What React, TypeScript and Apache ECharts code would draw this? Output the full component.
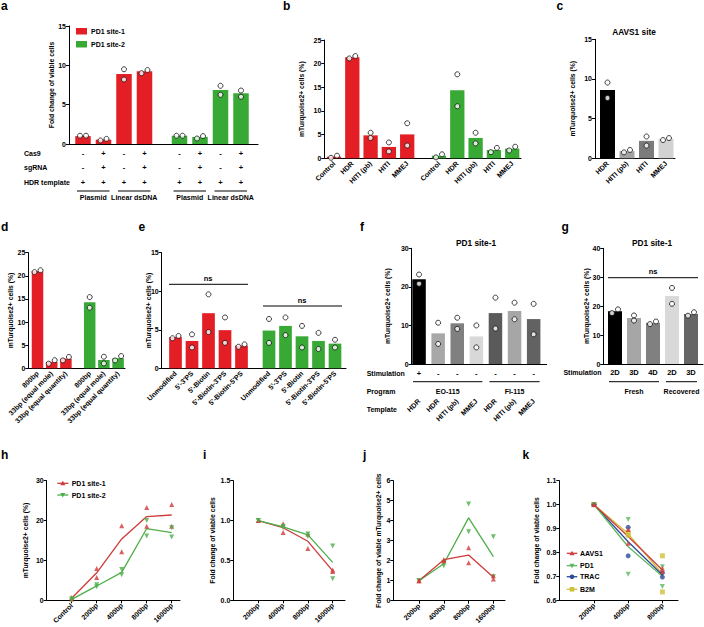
import React, { useEffect, useRef } from 'react';
import * as echarts from 'echarts';

const FONT = '"Liberation Sans", Arial, Helvetica, sans-serif';
const INK = '#000000';
const RED = '#e41e25';
const GREEN = '#39a935';
const LINE_RED = '#cf3a3a';
const LINE_GREEN = '#4dae4a';

// ---------- panel a ----------
const aCas9 = ['-', '+', '-', '+'];
const aSgRNA = ['-', '+', '-', '+'];
const aHDRTemplate = ['+', '+', '+', '+'];
const aTemplate = ['Plasmid', 'Plasmid', 'Linear dsDNA', 'Linear dsDNA'];
const aSite1Mean = [1.0, 0.55, 8.9, 9.25];
const aSite1Reps = [[1.05, 1.05], [0.45, 0.65], [9.5, 8.2], [9.0, 9.4]];
const aSite2Mean = [1.05, 0.9, 6.85, 6.45];
const aSite2Reps = [[1.05, 1.05], [0.7, 1.0], [7.4, 6.25], [6.8, 6.0]];

// ---------- panel b ----------
const bCats = ['Control', 'HDR', 'HITI (pb)', 'HITI', 'MMEJ'];
const bSite1Mean = [0.35, 21.35, 4.85, 2.4, 5.05];
const bSite1Reps = [[0.1, 0.55], [21.1, 21.6], [5.4, 4.3], [3.35, 1.45], [7.4, 2.7]];
const bSite2Mean = [0.55, 14.4, 4.3, 1.75, 2.05];
const bSite2Reps = [[0.2, 0.85], [17.75, 11.0], [5.4, 3.15], [1.3, 2.2], [1.65, 2.45]];

// ---------- panel c ----------
const cCats = ['HDR', 'HITI (pb)', 'HITI', 'MMEJ'];
const cMean = [8.6, 0.9, 2.2, 2.45];
const cReps = [[9.55, 7.6], [0.75, 1.05], [2.75, 1.6], [2.3, 2.55]];
const cColors = ['#000000', '#a3a3a3', '#7b7b7b', '#d2d2d2'];

// ---------- panel d ----------
const dCats = ['800bp', '33bp (equal mole)', '33bp (equal quantity)'];
const dSite1Mean = [21.0, 1.4, 2.1];
const dSite1Reps = [[20.8, 21.2], [1.0, 1.75], [1.7, 2.45]];
const dSite2Mean = [14.3, 1.8, 2.2];
const dSite2Reps = [[15.4, 13.1], [2.5, 1.05], [1.7, 2.65]];

// ---------- panel e ----------
const eCats = ['Unmodified', "5'-3'PS", "5'-Biotin", "5'-Biotin-3'PS", "5'-Biotin-5'PS"];
const eSite1Mean = [4.05, 3.55, 7.15, 4.95, 2.95];
const eSite1Reps = [[3.9, 4.2], [4.4, 2.7], [9.6, 4.7], [6.6, 3.3], [2.8, 3.1]];
const eSite2Mean = [4.9, 5.5, 4.15, 3.55, 3.2];
const eSite2Reps = [[6.4, 3.3], [6.6, 4.3], [5.5, 2.7], [4.6, 2.5], [3.7, 2.7]];

// ---------- panel f ----------
const fStim = ['+', '-', '-', '-', '-', '-', '-'];
const fProgram = ['EO-115', 'EO-115', 'EO-115', 'EO-115', 'FI-115', 'FI-115', 'FI-115'];
const fTemplate = ['HDR', 'HDR', 'HITI (pb)', 'MMEJ', 'HDR', 'HITI (pb)', 'MMEJ'];
const fMean = [22.0, 7.95, 10.55, 7.15, 13.2, 13.75, 11.65];
const fReps = [[23.2, 20.8], [10.7, 5.2], [12.0, 9.1], [10.0, 4.3], [17.2, 9.2], [15.9, 11.6], [15.6, 7.7]];
const fColors = ['#000000', '#a8a8a8', '#808080', '#d8d8d8', '#5a5a5a', '#a6a6a6', '#626262'];

// ---------- panel g ----------
const gStim = ['2D', '3D', '4D', '2D', '3D'];
const gState = ['Fresh', 'Fresh', 'Fresh', 'Recovered', 'Recovered'];
const gMean = [18.25, 15.9, 14.25, 23.55, 17.3];
const gReps = [[17.6, 18.9], [16.8, 15.0], [13.8, 14.7], [26.3, 20.8], [16.7, 17.9]];
const gColors = ['#000000', '#a6a6a6', '#808080', '#d9d9d9', '#666666'];

// ---------- panel h ----------
const hCats = ['Control', '200bp', '400bp', '800bp', '1600bp'];
const hSite1Mean = [0.5, 6.9, 15.4, 21.0, 21.4];
const hSite1Reps = [[0.7, 0.3], [8.0, 5.7], [18.7, 12.2], [23.3, 18.6], [24.0, 18.6]];
const hSite2Mean = [0.25, 3.6, 7.0, 18.0, 17.0];
const hSite2Reps = [[0.4, 0.1], [3.9, 3.4], [7.7, 6.4], [20.0, 16.1], [18.2, 15.9]];
const hLegend = ['PD1 site-1', 'PD1 site-2'];

// ---------- panel i ----------
const iCats = ['200bp', '400bp', '800bp', '1600bp'];
const iSite1Mean = [1.0, 0.91, 0.74, 0.37];
const iSite1Reps = [[1.0, 1.0], [0.96, 0.85], [0.83, 0.65], [0.38, 0.36]];
const iSite2Mean = [1.0, 0.92, 0.82, 0.475];
const iSite2Reps = [[1.0, 1.0], [0.93, 0.91], [0.83, 0.8], [0.68, 0.27]];

// ---------- panel j ----------
const jCats = ['200bp', '400bp', '800bp', '1600bp'];
const jSite1Mean = [1.0, 2.05, 2.28, 1.17];
const jSite1Reps = [[1.0, 1.0], [2.05, 2.0], [2.65, 1.9], [1.25, 1.08]];
const jSite2Mean = [1.0, 1.85, 4.14, 2.2];
const jSite2Reps = [[1.0, 1.0], [1.75, 1.9], [4.83, 3.45], [3.2, 1.2]];

// ---------- panel k ----------
const kCats = ['200bp', '400bp', '800bp'];
const kNames = ['AAVS1', 'PD1', 'TRAC', 'B2M'];
const kAAVS1Mean = [1.0, 0.867, 0.727];
const kAAVS1Reps = [[1.0, 1.0], [0.896, 0.838], [0.734, 0.72]];
const kPD1Mean = [1.0, 0.824, 0.7];
const kPD1Reps = [[1.0, 1.0], [0.938, 0.709], [0.74, 0.658]];
const kTRACMean = [1.0, 0.845, 0.706];
const kTRACReps = [[1.0, 1.0], [0.905, 0.786], [0.716, 0.697]];
const kB2MMean = [1.0, 0.878, 0.71];
const kB2MReps = [[1.0, 1.0], [0.884, 0.872], [0.786, 0.635]];
const kColors = ['#d23c3c', '#5cb85c', '#2c4a9a', '#cfc23a'];
const kSymbols = ['triangle', 'triangle', 'circle', 'rect'];
const kRotate = [0, 180, 0, 0];

type Frame = {
  x: number; top: number; bottom: number; right: number;
  min: number; max: number; interval: number; name: string; nameGap: number; decimals?: number;
};

function buildOption() {
  const grid: any[] = [];
  const xAxis: any[] = [];
  const yAxis: any[] = [];
  const series: any[] = [];
  const graphic: any[] = [];
  const axisLine = { color: INK, width: 1 };
  const baseLabel = { color: INK, fontFamily: FONT, fontWeight: 'bold' };

  const addGrid = (left: number, top: number, width: number, height: number) => {
    grid.push({ left, top, width, height, containLabel: false, outerBoundsMode: 'none' });
    return grid.length - 1;
  };

  const frame = (f: Frame) => {
    const gi = addGrid(f.x, f.top, f.right - f.x, f.bottom - f.top);
    xAxis.push({
      gridIndex: gi, type: 'value', min: 0, max: 1,
      axisLine: { show: true, onZero: false, lineStyle: axisLine },
      axisTick: { show: false }, axisLabel: { show: false }, splitLine: { show: false },
    });
    yAxis.push({
      gridIndex: gi, type: 'value', min: f.min, max: f.max, interval: f.interval,
      axisLine: { show: true, lineStyle: axisLine },
      axisTick: { show: true, length: 3, lineStyle: axisLine },
      axisLabel: {
        ...baseLabel, fontSize: 7, margin: 3,
        formatter: (v: number) => (f.decimals ? v.toFixed(f.decimals) : String(Math.round(v))),
      },
      splitLine: { show: false },
      name: f.name, nameLocation: 'middle', nameGap: f.nameGap, nameMoveOverlap: false,
      nameTextStyle: { ...baseLabel, fontSize: 6.8 },
    });
  };

  const dataGrid = (
    f: Frame, firstCenter: number, slot: number, labels: string[], label: any,
    opts: { ticks?: boolean; extra?: { labels: string[]; label: any; offset: number }[] } = {},
  ) => {
    const left = firstCenter - slot / 2;
    const gi = addGrid(left, f.top, slot * labels.length, f.bottom - f.top);
    const keys = labels.map((_, i) => 'k' + i);
    const mk = (labs: string[], lab: any, offset: number, ticks: boolean) => ({
      gridIndex: gi, type: 'category', data: keys, offset, position: 'bottom',
      axisLine: { show: false }, splitLine: { show: false },
      axisTick: { show: ticks, alignWithLabel: true, length: 3, lineStyle: axisLine },
      axisLabel: {
        ...baseLabel, fontSize: 7, interval: 0, margin: 4, rotate: 45, ...lab,
        formatter: (_v: string, idx: number) => labs[idx],
      },
    });
    const xi = xAxis.length;
    xAxis.push(mk(labels, label, 0, !!opts.ticks));
    (opts.extra || []).forEach((e) => xAxis.push(mk(e.labels, e.label, e.offset, false)));
    const yi = yAxis.length;
    yAxis.push({ gridIndex: gi, type: 'value', show: false, min: f.min, max: f.max });
    return {
      xi, yi,
      px: (f.bottom - f.top) / (f.max - f.min),
      center: (i: number) => left + slot * (i + 0.5),
    };
  };
  type G = ReturnType<typeof dataGrid>;

  const bars = (g: G, means: number[], color: string | string[], barWidth: number) => {
    series.push({
      type: 'bar', xAxisIndex: g.xi, yAxisIndex: g.yi, barWidth, silent: true,
      data: means.map((v, i) => ({ value: v, itemStyle: { color: Array.isArray(color) ? color[i] : color } })),
    });
  };

  const dots = (g: G, reps: number[][]) => {
    series.push({
      type: 'scatter', xAxisIndex: g.xi, yAxisIndex: g.yi, symbol: 'circle', symbolSize: 5, silent: true, z: 3,
      itemStyle: { color: '#ffffff', borderColor: '#111111', borderWidth: 1 },
      data: reps.flatMap((r, i) => {
        const close = Math.abs(r[0] - r[1]) * g.px < 5;
        return r.map((v, j) => ({ value: [i, v], symbolOffset: close ? [j === 0 ? -3 : 3, 0] : [0, 0] }));
      }),
    });
  };

  const lineSeries = (g: G, mean: number[], reps: number[][], color: string, symbol: string, rotate: number) => {
    series.push({
      type: 'line', xAxisIndex: g.xi, yAxisIndex: g.yi, data: mean, symbol: 'none', silent: true, z: 2,
      lineStyle: { color, width: 1.3 }, itemStyle: { color },
    });
    series.push({
      type: 'scatter', xAxisIndex: g.xi, yAxisIndex: g.yi, symbol, symbolRotate: rotate, symbolSize: 5,
      silent: true, z: 3, itemStyle: { color },
      data: reps.flatMap((r, i) => r.map((v) => [i, v])),
    });
  };

  const txt = (x: number, y: number, s: string, size = 7, align = 'left', weight = 'bold') =>
    graphic.push({
      type: 'text', x, y, silent: true,
      style: { text: s, fill: INK, fontSize: size, fontWeight: weight, fontFamily: FONT, align, verticalAlign: 'middle' },
    });
  const hl = (x1: number, x2: number, y: number, stroke = INK, w = 1) =>
    graphic.push({ type: 'line', silent: true, shape: { x1, y1: y, x2, y2: y }, style: { stroke, lineWidth: w } });
  const rect = (x: number, y: number, w: number, h: number, fill: string) =>
    graphic.push({ type: 'rect', silent: true, shape: { x, y, width: w, height: h }, style: { fill } });
  const marker = (cx: number, cy: number, symbol: string, rot: number, fill: string) => {
    if (symbol === 'triangle') {
      const pts = rot === 180
        ? [[cx - 2.5, cy - 2], [cx + 2.5, cy - 2], [cx, cy + 2.5]]
        : [[cx, cy - 2.5], [cx + 2.5, cy + 2], [cx - 2.5, cy + 2]];
      graphic.push({ type: 'polygon', silent: true, shape: { points: pts }, style: { fill } });
    } else if (symbol === 'circle') {
      graphic.push({ type: 'circle', silent: true, shape: { cx, cy, r: 2.3 }, style: { fill } });
    } else {
      rect(cx - 2.3, cy - 2.3, 4.6, 4.6, fill);
    }
  };
  const underGroups = (g: G, groups: string[], lineY: number, textY: number) => {
    let s = 0;
    for (let i = 1; i <= groups.length; i++) {
      if (i === groups.length || groups[i] !== groups[s]) {
        const x1 = g.center(s) - 6;
        const x2 = g.center(i - 1) + 6;
        hl(x1, x2, lineY);
        txt((x1 + x2) / 2, textY, groups[s], 7, 'center');
        s = i;
      }
    }
  };

  // panel letters
  [['a', 1, 5.6], ['b', 283, 5.6], ['c', 556.5, 5.6], ['d', 1, 227], ['e', 138.5, 227], ['f', 360, 227],
    ['g', 561.5, 227], ['h', 1, 455], ['i', 203, 455], ['j', 363, 455], ['k', 522.5, 455]].forEach(
    ([l, x, y]) => txt(x as number, y as number, l as string, 12),
  );

  // ---------- a ----------
  const fa: Frame = { x: 69, top: 26, bottom: 144, right: 258, min: 0, max: 15, interval: 5, name: 'Fold change of viable cells', nameGap: 14.5 };
  frame(fa);
  const aRows = aCas9.map((c, i) => `${c}\n${aSgRNA[i]}\n${aHDRTemplate[i]}`);
  const aLab = { rotate: 0, fontSize: 7.5, lineHeight: 14.5, margin: 1.75 };
  const aG1 = dataGrid(fa, 83, 20.5, aRows, aLab);
  const aG2 = dataGrid(fa, 179.5, 20.5, aRows, aLab);
  bars(aG1, aSite1Mean, RED, 15.5); dots(aG1, aSite1Reps);
  bars(aG2, aSite2Mean, GREEN, 15.5); dots(aG2, aSite2Reps);
  txt(24, 153, 'Cas9'); txt(24, 167.5, 'sgRNA'); txt(24, 182, 'HDR template');
  underGroups(aG1, aTemplate, 191, 197.5);
  underGroups(aG2, aTemplate, 191, 197.5);
  rect(76, 28, 11, 6.5, RED); txt(91, 31.3, 'PD1 site-1');
  rect(76, 41, 11, 6.5, GREEN); txt(91, 44.3, 'PD1 site-2');

  // ---------- b ----------
  const fb: Frame = { x: 324.3, top: 40, bottom: 158.3, right: 521, min: 0, max: 25, interval: 5, name: 'mTurquoise2+ cells (%)', nameGap: 18.9 };
  frame(fb);
  const bG1 = dataGrid(fb, 334, 18.3, bCats, {});
  const bG2 = dataGrid(fb, 439, 18.3, bCats, {});
  bars(bG1, bSite1Mean, RED, 14.3); dots(bG1, bSite1Reps);
  bars(bG2, bSite2Mean, GREEN, 14.3); dots(bG2, bSite2Reps);

  // ---------- c ----------
  const fc: Frame = { x: 595, top: 39.3, bottom: 158.3, right: 675, min: 0, max: 15, interval: 5, name: 'mTurquoise2+ cells (%)', nameGap: 19.5 };
  frame(fc);
  const cG = dataGrid(fc, 607.5, 19.5, cCats, {});
  bars(cG, cMean, cColors, 15); dots(cG, cReps);
  txt(634, 31.7, 'AAVS1 site', 8.3, 'center');

  // ---------- d ----------
  const fd: Frame = { x: 28.3, top: 252.7, bottom: 368.3, right: 125, min: 0, max: 25, interval: 5, name: 'mTurquoise2+ cells (%)', nameGap: 14.5 };
  frame(fd);
  const dG1 = dataGrid(fd, 37.5, 14.2, dCats, {});
  const dG2 = dataGrid(fd, 89.7, 14.2, dCats, {});
  bars(dG1, dSite1Mean, RED, 11.5); dots(dG1, dSite1Reps);
  bars(dG2, dSite2Mean, GREEN, 11.5); dots(dG2, dSite2Reps);

  // ---------- e ----------
  const fe: Frame = { x: 161.7, top: 252.7, bottom: 368.3, right: 346, min: 0, max: 15, interval: 5, name: 'mTurquoise2+ cells (%)', nameGap: 9.7 };
  frame(fe);
  const eG1 = dataGrid(fe, 175.5, 16.5, eCats, {});
  const eG2 = dataGrid(fe, 269, 16.5, eCats, {});
  bars(eG1, eSite1Mean, RED, 12.7); dots(eG1, eSite1Reps);
  bars(eG2, eSite2Mean, GREEN, 12.7); dots(eG2, eSite2Reps);
  hl(169, 248, 284.3); txt(208, 278, 'ns', 7.5, 'center');
  hl(263, 342, 306); txt(302, 300, 'ns', 7.5, 'center');

  // ---------- f ----------
  const ff: Frame = { x: 411.7, top: 248.3, bottom: 364, right: 546.7, min: 0, max: 30, interval: 10, name: 'mTurquoise2+ cells (%)', nameGap: 21 };
  frame(ff);
  const fG = dataGrid(ff, 419.05, 19.1, fStim, { rotate: 0, fontSize: 7.5, lineHeight: 10, margin: 4.3 }, {
    extra: [{ labels: fTemplate, label: { rotate: 45, margin: 2 }, offset: 34 }],
  });
  bars(fG, fMean, fColors, 13.5); dots(fG, fReps);
  txt(476, 243, 'PD1 site-1', 8.3, 'center');
  txt(366.7, 373.3, 'Stimulation'); txt(366.7, 391.5, 'Program'); txt(366.7, 409.5, 'Template');
  underGroups(fG, fProgram, 381.7, 391.5);

  // ---------- g ----------
  const fgr: Frame = { x: 603.3, top: 248.3, bottom: 364, right: 703, min: 0, max: 40, interval: 10, name: 'mTurquoise2+ cells (%)', nameGap: 12.9 };
  frame(fgr);
  const gG = dataGrid(fgr, 615, 19, gStim, { rotate: 0, fontSize: 7.5, lineHeight: 10, margin: 3.7 });
  bars(gG, gMean, gColors, 14); dots(gG, gReps);
  txt(652, 243, 'PD1 site-1', 8.3, 'center');
  txt(601.5, 372.7, 'Stimulation', 7, 'right');
  underGroups(gG, gState, 381.7, 391);
  hl(608, 698, 277.7); txt(653, 271.7, 'ns', 7.5, 'center');

  // ---------- h ----------
  const fh: Frame = { x: 46.7, top: 480.7, bottom: 600.3, right: 180, min: 0, max: 30, interval: 10, name: 'mTurquoise2+ cells (%)', nameGap: 18 };
  frame(fh);
  const hG = dataGrid(fh, 71.7, 25, hCats, {}, { ticks: true });
  lineSeries(hG, hSite1Mean, hSite1Reps, LINE_RED, 'triangle', 0);
  lineSeries(hG, hSite2Mean, hSite2Reps, LINE_GREEN, 'triangle', 180);
  hl(57.3, 68.3, 483.3, LINE_RED, 1.3); marker(62.8, 483.3, 'triangle', 0, LINE_RED); txt(71.7, 483.3, hLegend[0]);
  hl(57.3, 68.3, 495, LINE_GREEN, 1.3); marker(62.8, 495, 'triangle', 180, LINE_GREEN); txt(71.7, 495, hLegend[1]);

  // ---------- i ----------
  const fi: Frame = { x: 233.3, top: 480.7, bottom: 600.3, right: 345, min: 0, max: 1.5, interval: 0.5, decimals: 1, name: 'Fold change of viable cells', nameGap: 17.3 };
  frame(fi);
  const iG = dataGrid(fi, 258.3, 24.8, iCats, {}, { ticks: true });
  lineSeries(iG, iSite1Mean, iSite1Reps, LINE_RED, 'triangle', 0);
  lineSeries(iG, iSite2Mean, iSite2Reps, LINE_GREEN, 'triangle', 180);

  // ---------- j ----------
  const fj: Frame = { x: 393.3, top: 480.7, bottom: 600.7, right: 505, min: 0, max: 6, interval: 1, name: 'Fold change of viable mTurquoise2+ cells', nameGap: 11.3 };
  frame(fj);
  const jG = dataGrid(fj, 419, 24.8, jCats, {}, { ticks: true });
  lineSeries(jG, jSite2Mean, jSite2Reps, LINE_GREEN, 'triangle', 180);
  lineSeries(jG, jSite1Mean, jSite1Reps, LINE_RED, 'triangle', 0);

  // ---------- k ----------
  const fk: Frame = { x: 559.3, top: 480.7, bottom: 600.3, right: 678, min: 0.6, max: 1.1, interval: 0.1, decimals: 1, name: 'Fold change of viable cells', nameGap: 18.9 };
  frame(fk);
  const kG = dataGrid(fk, 594, 34.2, kCats, {}, { ticks: true });
  const kMeans = [kAAVS1Mean, kPD1Mean, kTRACMean, kB2MMean];
  const kReps = [kAAVS1Reps, kPD1Reps, kTRACReps, kB2MReps];
  [3, 2, 1, 0].forEach((s) => lineSeries(kG, kMeans[s], kReps[s], kColors[s], kSymbols[s], kRotate[s]));
  const kLegY = [553.3, 565.7, 576.7, 589.3];
  kNames.forEach((n, s) => {
    hl(566.7, 577.3, kLegY[s], kColors[s], 1.3);
    marker(572, kLegY[s], kSymbols[s], kRotate[s], kColors[s]);
    txt(580, kLegY[s], n);
  });

  return {
    animation: false,
    backgroundColor: '#ffffff',
    textStyle: { fontFamily: FONT },
    grid, xAxis, yAxis, series, graphic,
  };
}

export default function App() {
  const ref = useRef<HTMLDivElement>(null);
  useEffect(() => {
    if (!ref.current) return;
    const chart = echarts.init(ref.current, undefined, { renderer: 'svg', width: 704, height: 627 });
    chart.setOption(buildOption() as any);
    return () => chart.dispose();
  }, []);
  return (
    <div
      ref={ref}
      style={{ position: 'absolute', left: 0, top: 0, width: 704, height: 627, background: '#fff' }}
    />
  );
}
